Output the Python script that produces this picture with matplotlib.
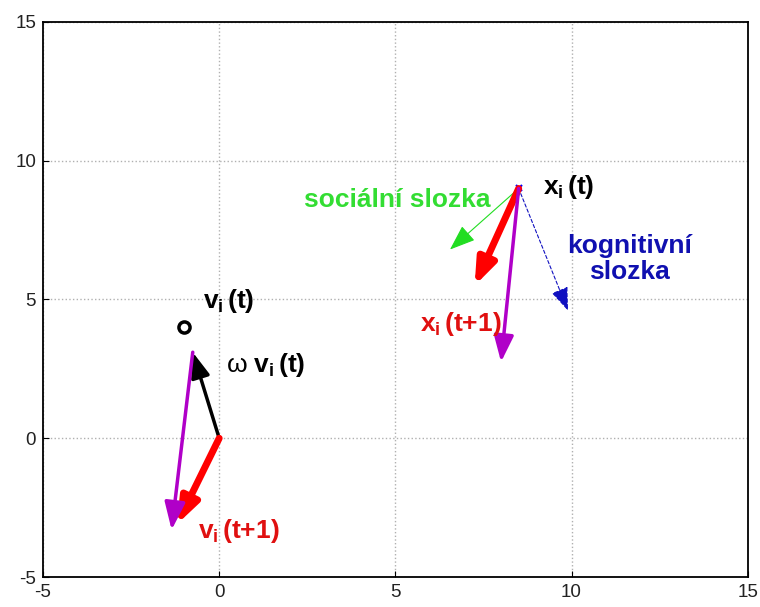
import matplotlib
matplotlib.use('Agg')
import matplotlib.pyplot as plt

plt.rcParams['font.family'] = ['Liberation Sans', 'DejaVu Sans']
plt.rcParams['mathtext.fontset'] = 'custom'
plt.rcParams['mathtext.rm'] = 'Liberation Sans'
plt.rcParams['mathtext.bf'] = 'Liberation Sans:bold'
plt.rcParams['mathtext.it'] = 'Liberation Sans:italic'
plt.rcParams['axes.unicode_minus'] = False

# velocity part (around origin)
origin = (0, 0)
v_t = (-1.0, 4.0)          # circle marker
w_v_t = (-0.75, 3.1)       # omega * v_i(t)
v_next_red = (-1.2, -3.1)  # red arrow end
v_next = (-1.35, -3.3)     # magenta arrow end

# position part
x_t = (8.5, 9.0)
social_end = (6.55, 6.8)
cognitive_end = (9.9, 4.6)
x_next = (7.25, 5.5)
magenta_end = (8.0, 2.75)

ticks = [-5, 0, 5, 10, 15]

fig = plt.figure(figsize=(7.6, 6.07), dpi=100)
ax = fig.add_axes([0.0566, 0.0494, 0.9272, 0.9144])
ax.set_xlim(-5, 15)
ax.set_ylim(-5, 15)
ax.set_xticks(ticks)
ax.set_yticks(ticks)
ax.tick_params(direction='in', labelsize=13.5, length=4, pad=5,
               labelcolor='#222222')
ax.grid(True, linestyle=':', color='#b0b0b0', linewidth=1)
for s in ax.spines.values():
    s.set_linewidth(1.3)


def arrow(start, end, color, lw, ms, ls='-'):
    ax.annotate('', xy=end, xytext=start,
                arrowprops=dict(arrowstyle='-|>,head_length=0.8,head_width=0.3',
                                color=color, lw=lw, mutation_scale=ms,
                                shrinkA=0, shrinkB=0, linestyle=ls))


# lower-left velocity triangle
arrow(origin, w_v_t, 'black', 2.5, 19)
arrow(origin, v_next_red, 'red', 5, 19)
arrow(w_v_t, v_next, '#b000c8', 2.5, 21)
ax.plot(*v_t, 'o', mfc='none', mec='black', mew=2.5, ms=8)

# upper-right position update
arrow(x_t, social_end, '#22dd22', 0.8, 20)
arrow(x_t, cognitive_end, '#1010c0', 0.8, 18, ls=(0, (3, 2)))
arrow(x_t, x_next, 'red', 5, 19)
arrow(x_t, magenta_end, '#b000c8', 2.5, 20)
ax.plot(*x_t, 'x', color='blue', ms=5, mew=1.5)

fs = 19
ax.text(-0.45, 4.7, r'$\mathbf{v_i\,(t)}$', fontsize=fs, color='black')
ax.text(0.2, 2.4, r'ω $\mathbf{v_i\,(t)}$', fontsize=fs, color='black')
ax.text(-0.6, -3.6, r'$\mathbf{v_i\,(t{+}1)}$', fontsize=fs, color='#e01010')
ax.text(2.4, 8.35, 'sociální slozka', fontsize=fs, color='#33dd33',
        fontweight='bold')
ax.text(9.2, 8.8, r'$\mathbf{x_i\,(t)}$', fontsize=fs, color='black')
ax.text(11.65, 6.45, 'kognitivní\nslozka', fontsize=fs, color='#1010b0',
        fontweight='bold', ha='center', va='center', linespacing=1.1)
ax.text(5.7, 3.85, r'$\mathbf{x_i\,(t{+}1)}$', fontsize=fs, color='#e01010')

fig.savefig('out.png', dpi=100)
